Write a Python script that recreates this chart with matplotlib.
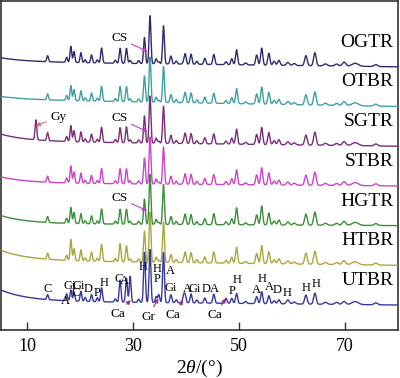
import numpy as np
import matplotlib
matplotlib.use("Agg")
import matplotlib.pyplot as plt

# ---------------- data ----------------
samples = ["OGTR", "OTBR", "SGTR", "STBR", "HGTR", "HTBR", "UTBR"]
colors = ["#2d2d6e", "#40a0a0", "#7a2d7a", "#cc44cc", "#3a8f3a", "#a8a840", "#3838a0"]

peak_pos = [11.6, 13.8, 17.4, 18.2, 18.8, 20.1, 20.9, 22.1, 23.2, 24.0,
            26.6, 27.5, 28.7, 29.4, 31.0, 32.1, 33.15, 34.3, 34.8, 35.7,
            37.1, 38.1, 39.5, 39.8, 40.9, 42.0, 43.5, 45.2, 47.5, 48.6,
            49.5, 51.2, 53.3, 54.25, 55.6, 56.6, 57.5, 59.2, 60.4, 62.6,
            64.3, 66.3, 68.4, 69.8, 71.9, 75.8]
peak_sigma = [0.16, 0.16, 0.16, 0.16, 0.16, 0.16, 0.16, 0.16, 0.16, 0.17,
              0.17, 0.17, 0.17, 0.17, 0.17, 0.17, 0.17, 0.17, 0.17, 0.17,
              0.18, 0.18, 0.18, 0.18, 0.18, 0.18, 0.19, 0.19, 0.19, 0.19,
              0.19, 0.22, 0.2, 0.2, 0.2, 0.22, 0.22, 0.27, 0.27, 0.24,
              0.24, 0.32, 0.32, 0.32, 0.6, 0.32]

h_ogtr = [0, 6, 5, 16, 11, 10, 3, 8, 3, 15, 3, 15, 15, 3, 3, 26, 48, 5, 2, 38,
          8, 3, 2, 10, 10, 3, 6, 10, 3, 6, 15, 2, 10, 17, 12, 4, 5, 3, 2, 10,
          13, 2, 2, 4, 3, 2]
h_otbr = [0, 6, 5, 15, 11, 10, 3, 8, 3, 15, 3, 15, 15, 3, 3, 26, 45, 5, 2, 36,
          8, 3, 2, 10, 10, 3, 6, 10, 3, 6, 15, 2, 10, 17, 12, 4, 5, 3, 2, 10,
          13, 2, 2, 4, 3, 2]
h_sgtr = [20, 8, 5, 16, 11, 10, 3, 8, 3, 15, 3, 15, 16, 3, 3, 27, 47, 5, 2, 37,
          8, 3, 2, 10, 10, 3, 6, 10, 3, 6, 15, 2, 10, 17, 12, 4, 5, 3, 2, 10,
          13, 2, 2, 4, 3, 2]
h_stbr = [0, 6, 5, 17, 11, 10, 3, 8, 3, 15, 3, 15, 15, 3, 3, 26, 47, 5, 2, 37,
          8, 3, 2, 10, 10, 3, 6, 10, 3, 6, 15, 2, 10, 17, 12, 4, 5, 3, 2, 10,
          13, 2, 2, 4, 3, 2]
h_hgtr = [0, 6, 5, 16, 11, 10, 3, 8, 3, 15, 3, 15, 15, 3, 3, 25, 50, 5, 2, 40,
          8, 3, 2, 10, 10, 3, 6, 11, 3, 6, 17, 2, 10, 19, 12, 4, 5, 3, 2, 11,
          13, 2, 2, 4, 3, 2]
h_htbr = [0, 6, 5, 21, 12, 11, 3, 9, 3, 17, 3, 18, 16, 3, 3, 31, 50, 5, 2, 40,
          8, 3, 2, 10, 10, 3, 6, 11, 3, 6, 16, 2, 10, 18, 12, 4, 5, 3, 2, 11,
          13, 2, 2, 4, 3, 2]
h_utbr = [0, 5, 7, 11, 9, 10, 4, 7, 4, 14, 3, 22, 24, 26, 3, 50, 53, 6, 8, 50,
          8, 3, 7, 7, 9, 3, 5, 9, 5, 5, 10, 2, 7, 12, 8, 3, 4, 4, 2, 9,
          11, 2, 2, 3, 3, 2]
heights = [h_ogtr, h_otbr, h_sgtr, h_stbr, h_hgtr, h_htbr, h_utbr]

# low-angle background rise and overall drift of each pattern
bg_rise = [4, 3, 7, 6, 8, 10, 11]
bg_drift = [5, 7, 5, 3, 2, 5, 4]

tick_vals = [10, 30, 50, 70]

# phase labels on the UTBR pattern: (text, 2theta, intensity)
utbr_labels = [("C", 13.75, 40.7), ("A", 17.22, 29), ("Gi", 17.9, 44.3),
               ("Gi", 19.68, 44.3), ("C", 19.17, 37.3), ("D", 21.49, 40.7),
               ("P", 23.08, 36.7), ("H", 24.4, 47.3), ("C", 27.16, 50.7),
               ("A", 28.3, 49), ("H", 31.77, 62.7), ("H", 34.42, 60.7),
               ("P", 34.42, 50.7), ("A", 36.93, 59.3), ("Gi", 37.12, 41.7),
               ("A", 40.2, 40.7), ("Gi", 41.65, 40.7), ("D", 43.73, 40.7),
               ("A", 45.3, 40.7), ("H", 49.59, 50.3), ("P", 48.68, 39.5),
               ("A", 53.18, 40), ("H", 54.25, 50.7), ("A", 55.69, 43.3),
               ("D", 57.2, 40), ("H", 59.09, 36.7), ("H", 62.57, 42.3),
               ("H", 64.46, 45.7)]

# arrow labels: (text, text position, arrow target, colour)
arrow_labels = [("Ca", (27.05, 16), (29.5, 30), "#9030a0"),
                ("Gr", (32.83, 13.3), (34.72, 31.7), "#9030a0"),
                ("Ca", (37.55, 15), (39.44, 30), "#9030a0"),
                ("Ca", (45.43, 15), (47.51, 31.7), "#9030a0"),
                ("CS", (27.35, 291.7), (32.72, 278.3), "#c040c0"),
                ("CS", (27.35, 211.7), (32.72, 198), "#c040c0"),
                ("CS", (27.35, 131.7), (32.6, 119.3), "#c040c0"),
                ("Gy", (15.83, 213.3), (11.6, 204), "#e07070")]

# ---------------- plot ----------------
plt.rcParams["font.family"] = ["Liberation Serif", "DejaVu Serif"]
plt.rcParams["mathtext.fontset"] = "custom"
plt.rcParams["mathtext.rm"] = "Liberation Serif"
plt.rcParams["mathtext.it"] = "Liberation Serif:italic"

fig = plt.figure(figsize=(4.0, 3.78), dpi=100)
ax = fig.add_axes([1 / 400, 48 / 378, 397 / 400, 329 / 378])

theta = np.arange(5.0, 80.0001, 0.02)
pos = np.array(peak_pos)[:, None]
sig = np.array(peak_sigma)[:, None]
spacing = 39.7
base0 = 25.0
n = len(samples)
for i, name in enumerate(samples):
    off = base0 + spacing * (n - 1 - i)
    h = np.array(heights[i], dtype=float)[:, None]
    peaks = np.sum(h * np.exp(-0.5 * ((theta - pos) / sig) ** 2), axis=0)
    bg = bg_rise[i] * np.exp(-(theta - 5.0) / 5.0) + bg_drift[i] * (80.0 - theta) / 75.0
    ax.plot(theta, off + bg + peaks, color=colors[i], lw=1.0, zorder=2 + i)
    ax.text(79.1, off + 24.5, name, ha="right", va="center", fontsize=14, zorder=20)

for t, x, y in utbr_labels:
    ax.text(x, y, t, ha="center", va="center", fontsize=9, zorder=20)

for t, txy, xy, c in arrow_labels:
    ax.annotate(t, xy=xy, xytext=txy, ha="center", va="center", fontsize=9.5,
                zorder=20,
                arrowprops=dict(arrowstyle="-|>", color=c, lw=0.8,
                                mutation_scale=6, shrinkA=1, shrinkB=0))

ax.set_xlim(5, 80)
ax.set_ylim(0, 329)
ax.set_xticks(tick_vals)
ax.set_xticklabels([str(v) for v in tick_vals])
ax.set_yticks([])
ax.tick_params(axis="x", direction="in", length=6, width=1, labelsize=13, pad=6,
               color="#333333")
for s in ax.spines.values():
    s.set_linewidth(1.2)
    s.set_color("#333333")
ax.set_xlabel(r"2$\it{\theta}$/(°)", fontsize=14, labelpad=2)

fig.savefig("out.png", dpi=100)
